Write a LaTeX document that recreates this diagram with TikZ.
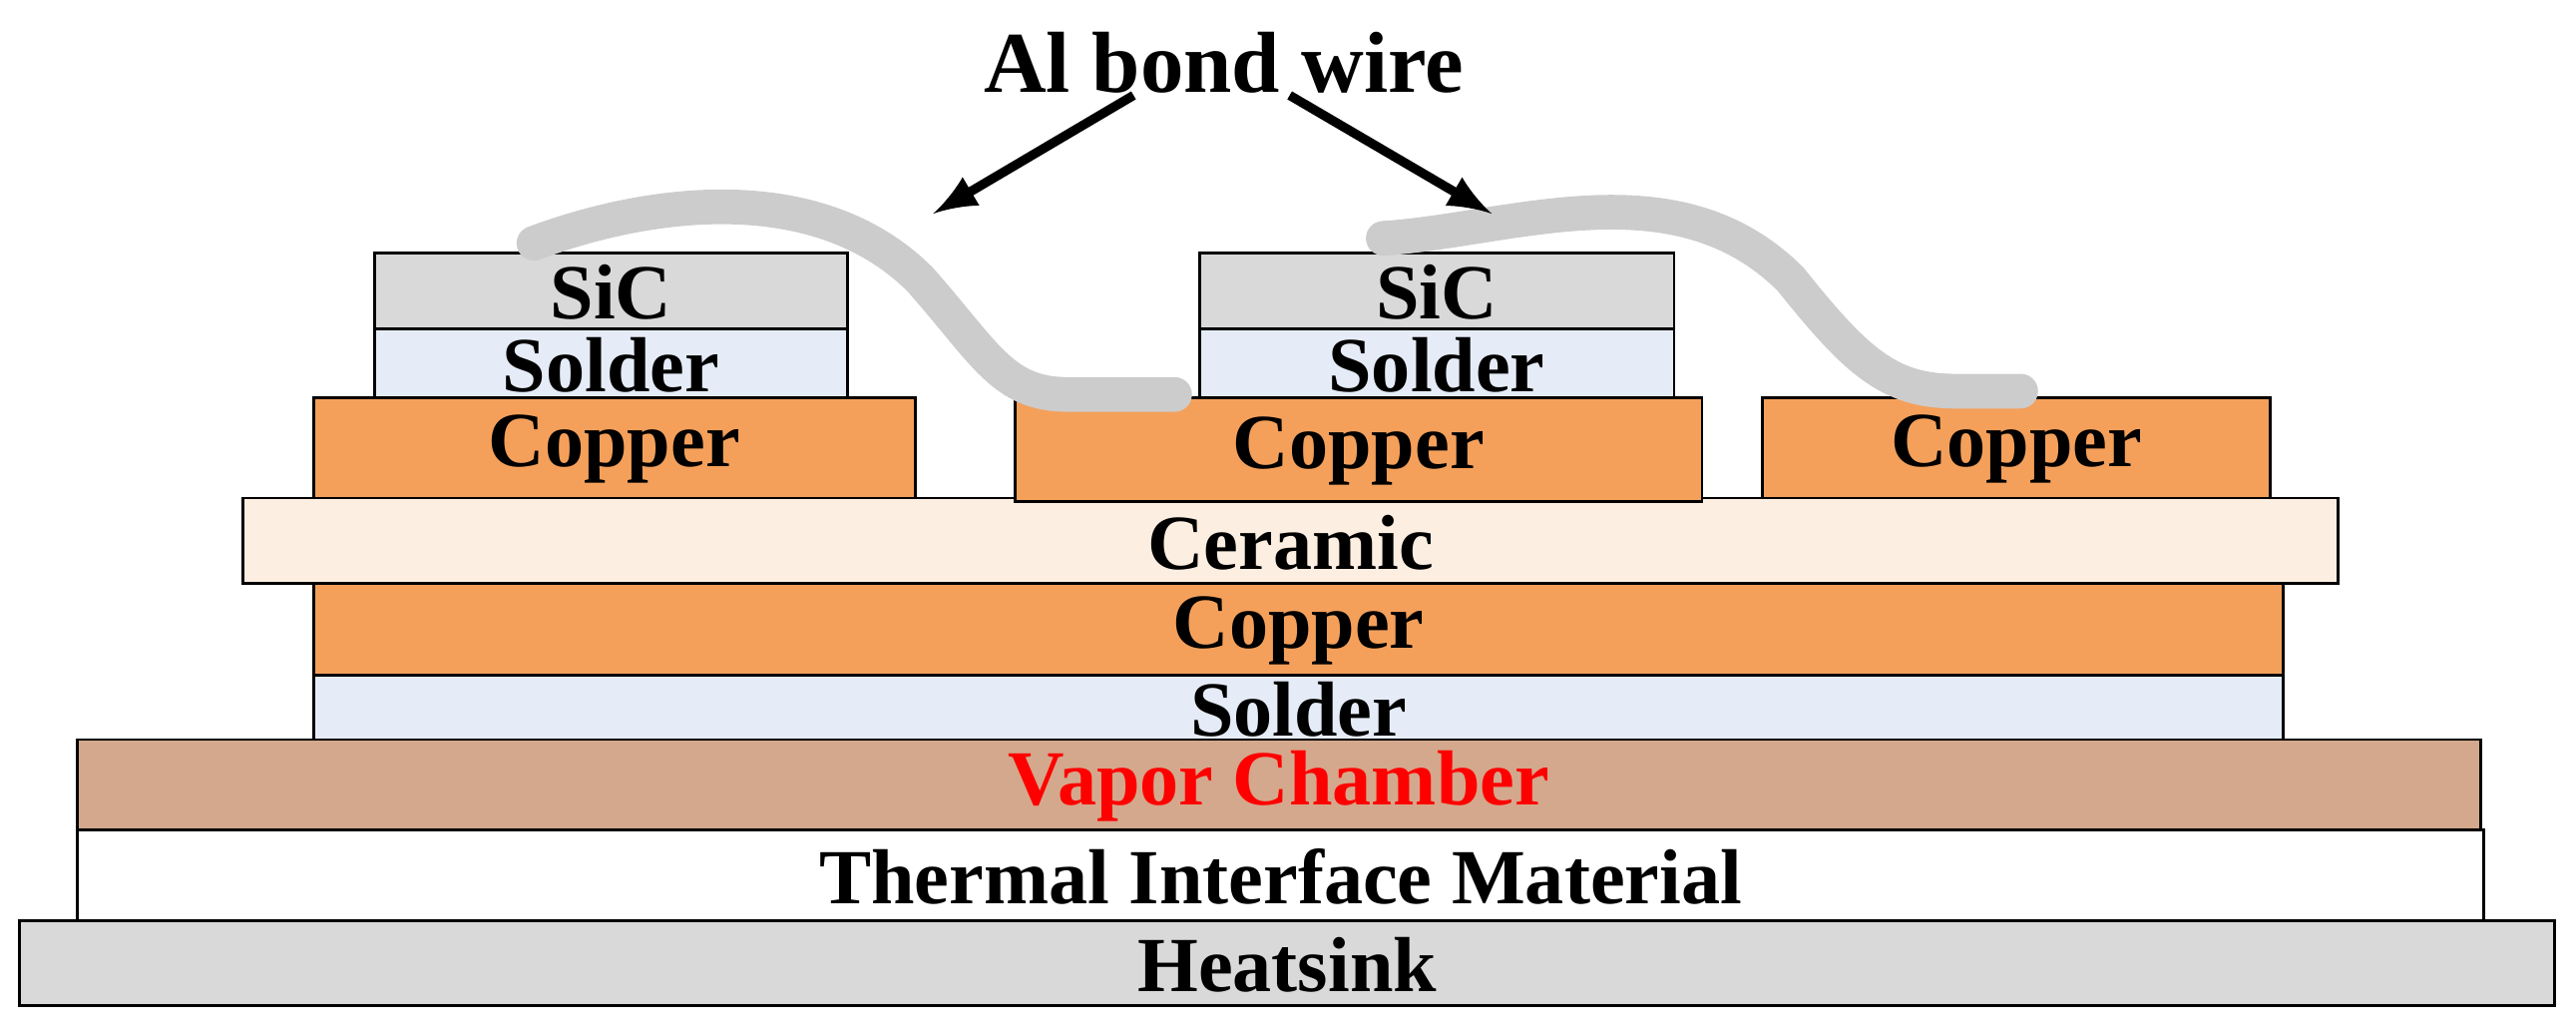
\documentclass[tikz,border=0pt]{standalone}
\usepackage{fontspec}
\setmainfont{Liberation Serif}
\begin{document}
\begin{tikzpicture}[x=0.01cm,y=-0.01cm,
 lab/.style={font=\bfseries\fontsize{13.5}{13.5}\selectfont,inner sep=0pt},
 wire/.style={line width=6pt,color=black!20,line cap=round},
 arr/.style={-latex,line width=1.6pt}]
\useasboundingbox (0,0) rectangle (1568,630);
\definecolor{sic}{HTML}{D9D9D9}
\definecolor{sold}{HTML}{E5ECF7}
\definecolor{cu}{HTML}{F4A05B}
\definecolor{cer}{HTML}{FDEEE2}
\definecolor{vc}{HTML}{D4A88C}
\def\lay#1#2#3#4#5#6#7{\fill[#6] (#2,#3) rectangle (#4,#5); \draw[line width=0.5pt] (#2,#3) rectangle (#4,#5);
 \node[lab] (#1) at ({(#2+#4)/2},{(#3+#5)/2+1}) {#7};}
\lay{hs}{12}{560}{1555}{612}{sic}{Heatsink}
\lay{tim}{47}{505}{1512}{560}{white}{Thermal Interface Material}
\lay{vc}{47}{450}{1510}{505}{vc}{\textcolor{red}{Vapor Chamber}}
\lay{sb}{191}{411}{1390}{450}{sold}{Solder}
\lay{cb}{191}{355}{1390}{411}{cu}{Copper}
\lay{cer}{148}{303}{1423}{355}{cer}{Ceramic}
\lay{c1}{191}{242}{557}{303}{cu}{Copper}
\lay{c2}{618}{242}{1036}{305}{cu}{Copper}
\lay{c3}{1073}{242}{1382}{303}{cu}{Copper}
\lay{s1}{228}{200}{516}{242}{sold}{Solder}
\lay{s2}{730}{200}{1019}{242}{sold}{Solder}
\lay{d1}{228}{154}{516}{200}{sic}{SiC}
\lay{d2}{730}{154}{1019}{200}{sic}{SiC}
\draw[wire] (325,148) .. controls (400,120) and (500,110) .. (560,170) .. controls (600,215) and (610,240) .. (650,240) -- (715,240);
\draw[wire] (842,145) .. controls (920,140) and (1020,100) .. (1090,170) .. controls (1130,220) and (1150,238) .. (1190,238) -- (1230,238);
\node[font=\bfseries\fontsize{15}{15}\selectfont,inner sep=0pt] (t) at (745,38) {Al bond wire};
\coordinate (a1) at (568,130);
\coordinate (a2) at (908,130);
\draw[arr] (690,58) -- (a1);
\draw[arr] (785,58) -- (a2);
\end{tikzpicture}
\end{document}
